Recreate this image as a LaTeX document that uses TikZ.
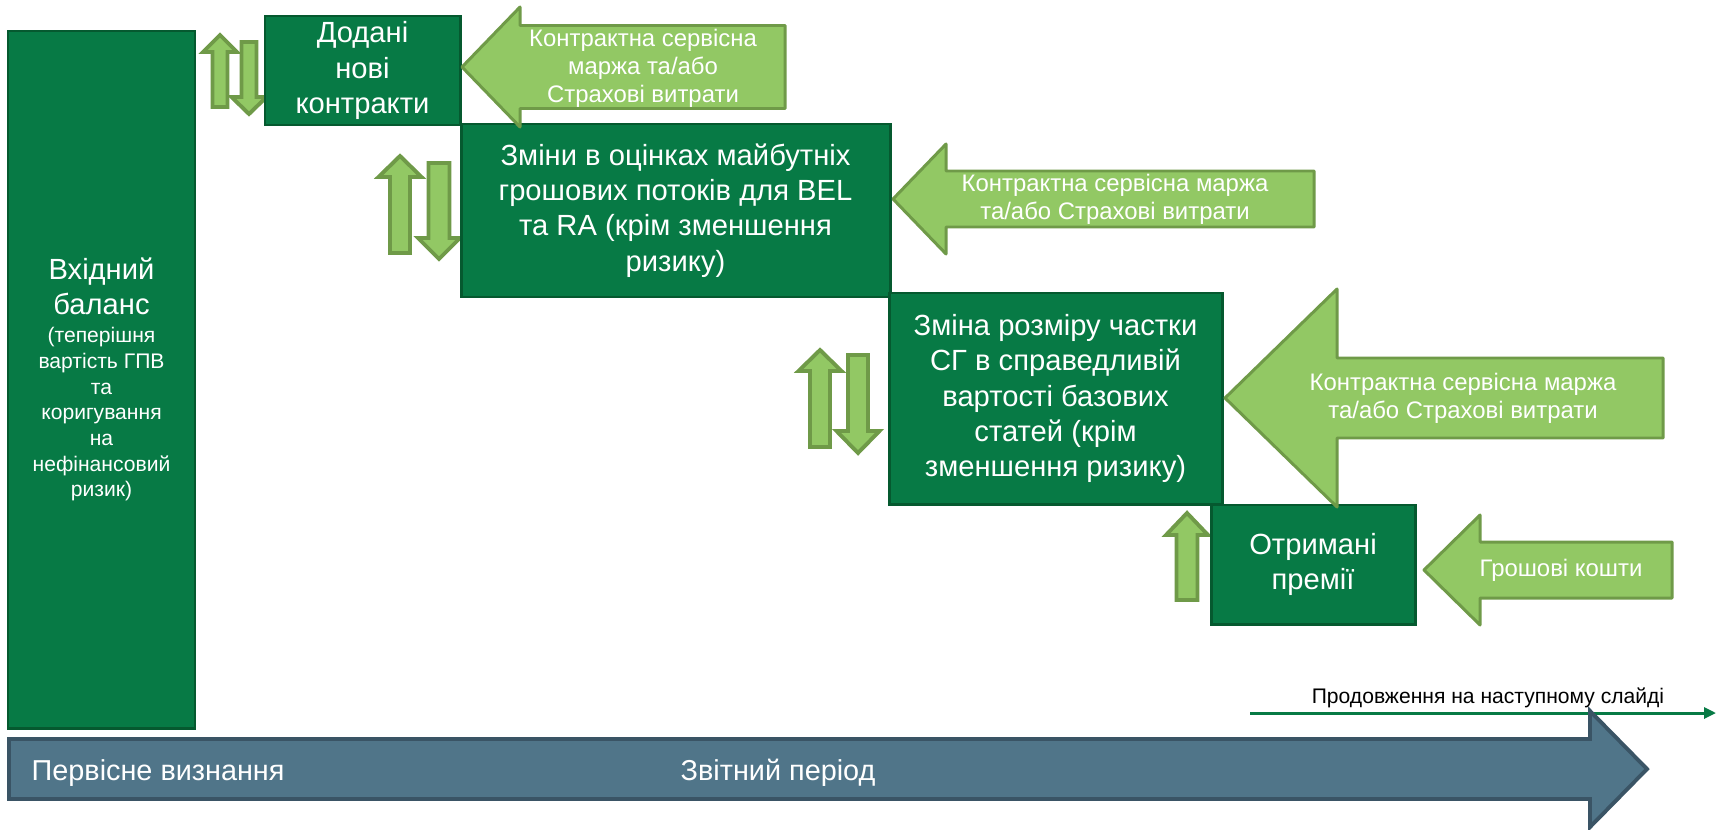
\documentclass[tikz,border=0pt]{standalone}
\usepackage{fontspec}
\setmainfont{Liberation Sans}
\usetikzlibrary{arrows.meta}
\definecolor{leafdark}{HTML}{077A45}
\definecolor{leafedge}{HTML}{05592F}
\definecolor{leaflight}{HTML}{92C864}
\definecolor{leafrim}{HTML}{6F9A48}
\definecolor{slatefill}{HTML}{507589}
\definecolor{slaterim}{HTML}{3A5465}
\newcommand{\subtxt}{\fontsize{6}{7.3}\selectfont}
\newcommand{\stagebox}[6]{%
  \node[draw=leafedge, line width=0.85pt, fill=leafdark, text=white,
        minimum width=#4mm, minimum height=#5mm, align=center, inner sep=0pt,
        font=\fontsize{8.3}{10}\selectfont] (#1) at (#2,#3) {#6};}
% horizontal block arrow: tip x, mid y, head x, head half, body half, end x
\newcommand{\blockarrow}[7][]{%
  \draw[#1] (#2,#3) -- (#4,{#3-#5}) -- (#4,{#3-#6}) -- (#7,{#3-#6})
    -- (#7,{#3+#6}) -- (#4,{#3+#6}) -- (#4,{#3+#5}) -- cycle;}
% vertical block arrow: centre x, tip y, head y, end y, head half, shaft half
\newcommand{\liftarrow}[6]{%
  \draw[draw=leafrim, fill=leaflight, line width=1.1pt]
    (#1,#2) -- ({#1+#5},#3) -- ({#1+#6},#3) -- ({#1+#6},#4)
    -- ({#1-#6},#4) -- ({#1-#6},#3) -- ({#1-#5},#3) -- cycle;}
\tikzset{
  feed/.style={draw=leafrim, fill=leaflight, line width=0.85pt, line join=round},
  feedtext/.style={text=white, align=center, inner sep=0pt,
    font=\fontsize{6.8}{8}\selectfont}
}

\begin{document}
\begin{tikzpicture}[x=1mm, y=-1mm]
  \useasboundingbox (0,0) rectangle (171.6,82.9);
  % up and down flows
  \liftarrow{22.0}{3.5}{5.2}{10.7}{1.7}{0.75}
  \liftarrow{24.9}{11.4}{9.7}{4.2}{1.75}{0.75}
  \liftarrow{40.0}{15.6}{17.7}{25.3}{2.15}{1.0}
  \liftarrow{43.9}{25.9}{23.8}{16.3}{2.1}{1.05}
  \liftarrow{82.0}{35.0}{37.1}{44.7}{2.15}{1.0}
  \liftarrow{85.8}{45.3}{43.1}{35.5}{2.15}{1.0}
  \liftarrow{118.7}{51.3}{53.5}{60.0}{2.1}{1.05}
  % stages
  \stagebox{bal}{10.15}{37.95}{18.7}{69.7}{Вхідний\\баланс\\[-2pt]
    \subtxt (теперішня\\[-2.7pt]\subtxt вартість ГПВ\\[-2.7pt]\subtxt та\\[-2.7pt]
    \subtxt коригування\\[-2.7pt]\subtxt на\\[-2.7pt]\subtxt нефінансовий\\[-2.7pt]
    \subtxt ризик)}
  \stagebox{newc}{36.25}{7.05}{19.5}{10.9}{Додані\\нові\\контракти}
  \stagebox{est}{67.55}{21.05}{42.9}{17.3}{Зміни в оцінках майбутніх\\
    грошових потоків для BEL\\та RA (крім зменшення\\ризику)}
  \stagebox{share}{105.55}{39.85}{33.3}{21.1}{Зміна розміру частки\\
    СГ в справедливій\\вартості базових\\статей (крім\\зменшення ризику)}
  \stagebox{prem}{131.3}{56.45}{20.4}{11.9}{Отримані\\премії}
  % inflows
  \blockarrow[feed]{46.2}{6.7}{52.0}{6.0}{4.15}{78.5}
  \blockarrow[feed]{89.3}{19.9}{94.6}{5.5}{2.8}{131.4}
  \blockarrow[feed]{122.5}{39.8}{133.7}{10.9}{4.0}{166.3}
  \blockarrow[feed]{142.4}{57.0}{148.0}{5.5}{2.8}{167.2}
  \node[feedtext] (csm1) at (64.3,6.8) {Контрактна сервісна\\маржа та/або\\Страхові витрати};
  \node[feedtext] (csm2) at (111.5,19.9) {Контрактна сервісна маржа\\та/або Страхові витрати};
  \node[feedtext] (csm3) at (146.3,39.8) {Контрактна сервісна маржа\\та/або Страхові витрати};
  \node[feedtext] (cash) at (156.1,57.0) {Грошові кошти};
  % continuation
  \coordinate (contfrom) at (125.0,71.3);
  \coordinate (contto) at (171.6,71.3);
  \draw[leafdark, line width=0.85pt, -{Triangle[length=1.2mm, width=1.1mm]}]
    (contfrom) -- (contto);
  \node[anchor=base, inner sep=0pt, font=\fontsize{6}{7}\selectfont] (cont)
    at (148.8,70.3) {Продовження на наступному слайді};
  % time axis
  \blockarrow[draw=slaterim, fill=slatefill, line width=1.1pt]{164.7}{76.9}{159.0}{5.8}{3.0}{0.9}
  \node[anchor=base west, inner sep=0pt, text=white, font=\fontsize{8.2}{10}\selectfont]
    (initrec) at (3.1,78.0) {Первісне визнання};
  \node[anchor=base west, inner sep=0pt, text=white, font=\fontsize{8.2}{10}\selectfont]
    (period) at (68.0,78.0) {Звітний період};
\end{tikzpicture}
\end{document}
